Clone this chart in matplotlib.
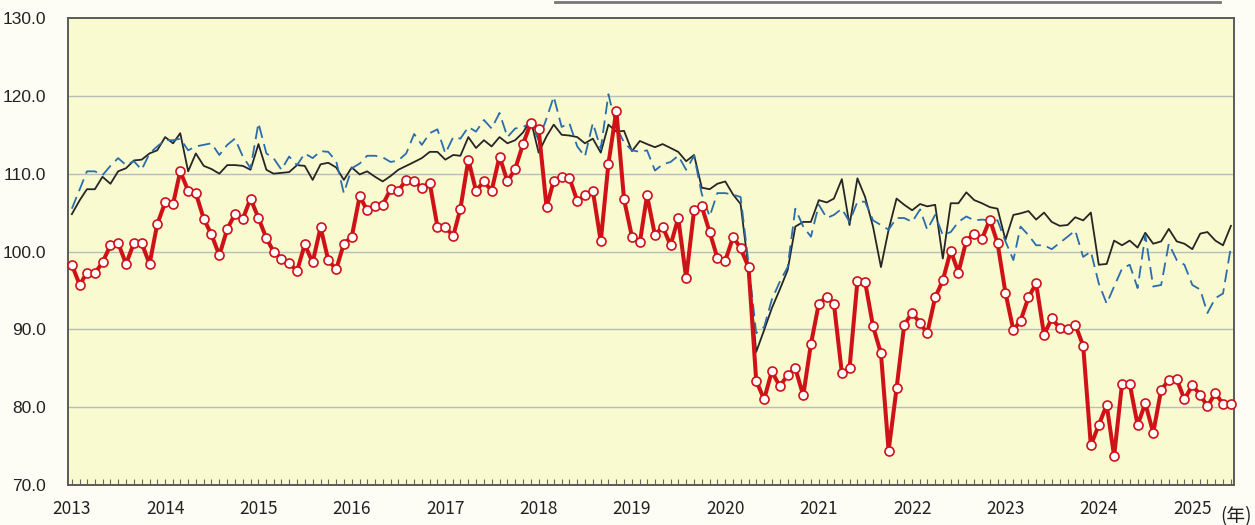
import numpy as np
import pandas as pd
import matplotlib
matplotlib.use('Agg')
import matplotlib.pyplot as plt
import matplotlib.dates as mdates
import matplotlib.ticker as ticker
from matplotlib.lines import Line2D

# ── Data (monthly, Jan 2013 – Jun 2025) ───────────────────────────────────────
START = '2013-01-01'
N_MONTHS = 150

red_vals = [
    98.3, 95.7, 97.3, 97.2, 98.6, 100.8, 101.1, 98.4, 101.1, 101.1, 98.4, 103.5,
    106.3, 106.1, 110.3, 107.8, 107.5, 104.2, 102.2, 99.5, 102.9, 104.8, 104.2, 106.8,
    104.3, 101.7, 100.0, 99.1, 98.5, 97.5, 100.9, 98.6, 103.1, 98.9, 97.7, 101.0,
    101.9, 107.1, 105.3, 105.9, 106.0, 108.0, 107.8, 109.2, 109.0, 108.2, 108.8, 103.2,
    103.1, 102.0, 105.5, 111.8, 107.8, 109.0, 107.8, 112.2, 109.0, 110.6, 113.8, 116.5,
    115.7, 105.7, 109.1, 109.6, 109.5, 106.5, 107.2, 107.8, 101.3, 111.3, 118.1, 106.7,
    101.9, 101.2, 107.2, 102.1, 103.2, 100.8, 104.3, 96.6, 105.3, 105.8, 102.5, 99.2,
    98.8, 101.9, 100.4, 98.0, 83.4, 81.0, 84.6, 82.7, 84.1, 85.0, 81.5, 88.1,
    93.3, 94.2, 93.3, 84.4, 85.0, 96.2, 96.1, 90.4, 86.9, 74.4, 82.4, 90.6,
    92.1, 90.8, 89.5, 94.1, 96.3, 100.1, 97.3, 101.4, 102.3, 101.6, 104.1, 101.1,
    94.7, 89.9, 91.1, 94.1, 95.9, 89.3, 91.4, 90.2, 90.0, 90.6, 87.9, 75.1,
    77.7, 80.3, 73.7, 83.0, 83.0, 77.7, 80.5, 76.7, 82.2, 83.5, 83.6, 81.0,
    82.8, 81.6, 80.1, 81.8, 80.4, 80.4,
]

black_vals = [
    104.8, 106.6, 108.0, 108.0, 109.6, 108.7, 110.3, 110.7, 111.7, 111.8, 112.6, 113.0,
    114.7, 113.9, 115.2, 110.3, 112.6, 111.0, 110.6, 110.0, 111.1, 111.1, 111.0, 110.5,
    113.8, 110.5, 110.0, 110.1, 110.2, 111.1, 111.0, 109.2, 111.2, 111.4, 110.8, 109.2,
    110.8, 109.9, 110.3, 109.6, 109.0, 109.7, 110.5, 111.0, 111.5, 112.0, 112.8, 112.8,
    111.8, 112.4, 112.3, 114.7, 113.3, 114.3, 113.5, 114.7, 113.9, 114.3, 115.3, 116.9,
    112.7, 114.8, 116.3, 115.0, 114.9, 114.7, 113.9, 114.5, 112.7, 116.3, 115.4, 115.5,
    112.9, 114.2, 113.8, 113.4, 113.8, 113.3, 112.8, 111.6, 112.4, 108.2, 108.0, 108.7,
    109.0, 107.3, 106.1, 97.8, 87.1, 89.9, 92.7, 95.1, 97.6, 103.2, 103.8, 103.8,
    106.6, 106.3, 106.8, 109.3, 103.4, 109.4, 107.0, 103.2, 98.0, 102.8, 106.8, 106.0,
    105.3, 106.1, 105.8, 106.0, 99.1, 106.2, 106.2, 107.6, 106.6, 106.2, 105.7, 105.5,
    101.5, 104.7, 104.9, 105.2, 104.1, 105.0, 103.8, 103.3, 103.4, 104.4, 104.0, 105.0,
    98.3, 98.4, 101.4, 100.8, 101.4, 100.5, 102.4, 101.0, 101.3, 102.9, 101.3, 101.0,
    100.3, 102.3, 102.5, 101.4, 100.8, 103.3,
]

blue_vals = [
    105.5, 108.0, 110.3, 110.3, 109.8, 111.0, 112.0, 111.1, 111.6, 110.5, 112.6, 113.5,
    114.3, 114.3, 114.5, 113.0, 113.5, 113.7, 113.9, 112.4, 113.7, 114.5, 112.2, 110.7,
    116.5, 112.6, 112.0, 110.5, 112.2, 111.1, 112.6, 112.0, 112.9, 112.8, 111.6, 107.5,
    110.7, 111.3, 112.3, 112.3, 112.1, 111.5, 111.7, 112.6, 115.1, 113.7, 115.2, 115.7,
    112.6, 114.7, 114.5, 116.0, 115.4, 116.9, 115.8, 117.8, 114.7, 115.8, 116.0, 116.5,
    114.3, 117.1, 119.9, 116.0, 116.5, 113.5, 112.2, 116.5, 113.2, 120.2, 116.0, 114.0,
    113.0, 112.8, 113.0, 110.4, 111.2, 111.5, 112.3, 110.5, 112.3, 107.4, 104.5, 107.5,
    107.5, 107.3, 107.0, 98.5, 89.5, 90.3, 93.8, 96.1, 98.0, 105.5, 103.2, 101.9,
    106.0, 104.3, 104.7, 105.5, 103.8, 106.4, 106.4, 104.0, 103.4, 102.8, 104.3, 104.3,
    103.8, 105.4, 102.8, 104.7, 102.1, 102.5, 103.8, 104.5, 104.0, 104.1, 104.0, 104.0,
    101.3, 98.9, 103.2, 102.1, 100.8, 100.8, 100.3, 101.1, 101.9, 102.7, 99.3, 100.0,
    95.9, 93.3, 95.5, 97.8, 98.3, 95.3, 102.1, 95.5, 95.7, 101.0, 98.9, 98.3,
    95.7, 95.1, 92.1, 94.0, 94.6, 100.6,
]

dates = pd.date_range(START, periods=N_MONTHS, freq='MS')

# ── Figure ────────────────────────────────────────────────────────────────────
W, H = 1255, 525
fig = plt.figure(figsize=(W / 100, H / 100), dpi=100, facecolor='#fdfdf6')
ax = fig.add_axes([68 / W, 1 - 485 / H, (1234 - 68) / W, (485 - 18) / H])
ax.set_facecolor('#fafad0')

for y in [80, 90, 100, 110, 120]:
    ax.axhline(y, color='#b6c0b8', linewidth=1.0, zorder=1)

ax.plot(dates, black_vals, color='#262626', linewidth=1.3, zorder=3)
ax.plot(dates, blue_vals, color='#2b6cab', linewidth=1.3, dashes=(7, 3.5), zorder=3)
ax.plot(dates, red_vals, color='#cf1218', linewidth=2.9, zorder=4,
        marker='o', markersize=6.5, markerfacecolor='white',
        markeredgecolor='#cf1218', markeredgewidth=1.2, clip_on=False)

ax.set_ylim(70, 130)
ax.set_xlim(pd.Timestamp('2012-12-17'), pd.Timestamp('2025-06-13'))

ax.yaxis.set_major_locator(ticker.MultipleLocator(10))
ax.yaxis.set_major_formatter(ticker.FormatStrFormatter('%.1f'))
ax.tick_params(axis='y', length=0, pad=16, labelsize=12.5)
for lab in ax.get_yticklabels():
    lab.set_family(['Liberation Sans', 'DejaVu Sans'])
    lab.set_color('#222222')

ax.xaxis.set_major_locator(mdates.YearLocator())
ax.xaxis.set_major_formatter(mdates.DateFormatter('%Y'))
ax.xaxis.set_minor_locator(mdates.MonthLocator())
ax.tick_params(axis='x', which='both', direction='in', length=4, width=0.8,
               color='#666666', labelsize=12.5, pad=11)
for lab in ax.get_xticklabels():
    lab.set_family(['Noto Sans CJK JP', 'DejaVu Sans'])
    lab.set_color('#222222')

for s in ax.spines.values():
    s.set_color('#5a5a5a')
    s.set_linewidth(1.4)

fig.text(1236 / W, 1 - 517 / H, '(年)', ha='center', va='center', fontsize=13.5,
         family=['Noto Sans CJK JP', 'DejaVu Sans'], color='#222222')

# cropped frame line at top edge
fig.add_artist(Line2D([555 / W, 1220 / W], [1 - 1.5 / H, 1 - 1.5 / H],
                      transform=fig.transFigure, color='#777777', linewidth=2))

fig.savefig('out.png', dpi=100, facecolor=fig.get_facecolor())
